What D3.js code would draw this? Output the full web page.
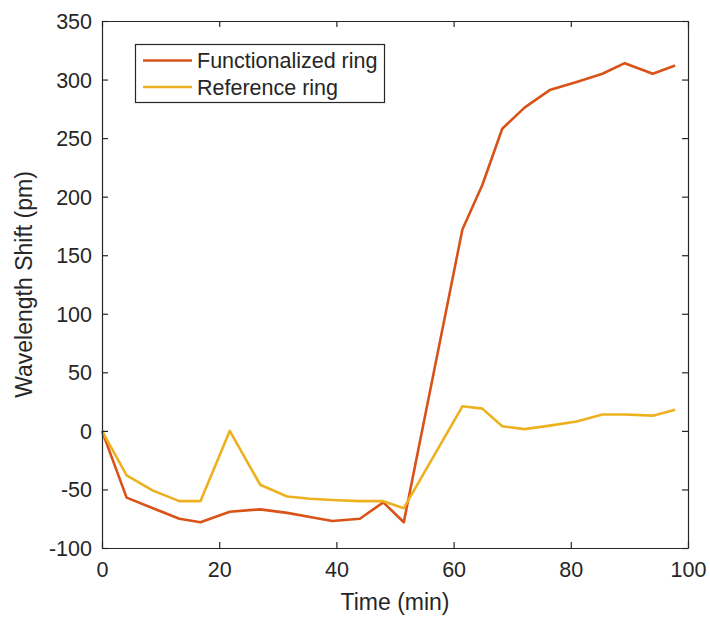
<!DOCTYPE html>
<html>
<head>
<meta charset="utf-8">
<script src="https://cdn.jsdelivr.net/npm/d3@7"></script>
<style>
  html, body { margin: 0; padding: 0; background: #fff; }
  svg { display: block; }
  text { font-family: "Liberation Sans", Arial, Helvetica, sans-serif; fill: #262626; }
</style>
</head>
<body>
<svg id="chart" width="710" height="619"></svg>
<script>
// Sampling times (min)
const time = [0, 4.2, 8.7, 13.2, 16.8, 21.8, 27, 31.6, 35.5, 39.3, 44, 48, 51.5,
              61.5, 64.9, 68.3, 72.1, 76.4, 81, 85.4, 89.2, 94, 97.8];
// Wavelength shift (pm) for each ring
const functionalized = [0, -57, -66, -75, -78, -69, -67, -70, -73.5, -77, -75, -61, -78,
                        172, 210, 258, 276, 291, 298, 305, 314, 305, 312];
const reference = [0, -38, -51, -60, -60, 0, -46, -56, -58, -59, -60, -60, -66,
                   21, 19, 4, 1.5, 4.5, 8, 14, 14, 13, 18];

const xTicks = [0, 20, 40, 60, 80, 100];
const yTicks = [-100, -50, 0, 50, 100, 150, 200, 250, 300, 350];

const seriesNames = ["Functionalized ring", "Reference ring"];
const seriesColors = ["#D95319", "#EDB120"];
const seriesValues = [functionalized, reference];

const svg = d3.select("#chart");
const margin = { left: 102, right: 22, top: 21, bottom: 71 };
const W = 710, H = 619;
const x = d3.scaleLinear().domain([0, 100]).range([margin.left, W - margin.right]);
const y = d3.scaleLinear().domain([-100, 350]).range([H - margin.bottom, margin.top]);

const axisColor = "#262626";
const textColor = "#333333";
const tickLen = 6;
// plain hyphen-minus for negative tick labels
const plain = d => String(d);

// Data lines
const line = d3.line().x(d => x(d[0])).y(d => y(d[1]));
seriesValues.forEach((vals, i) => {
  svg.append("path")
    .datum(time.map((t, j) => [t, vals[j]]))
    .attr("fill", "none")
    .attr("stroke", seriesColors[i])
    .attr("stroke-width", 2.6)
    .attr("stroke-linejoin", "round")
    .attr("d", line);
});

// Axes with inward ticks on all four sides
const fs = 21.5;
const axBottom = svg.append("g").attr("transform", `translate(0,${y(-100)})`)
  .call(d3.axisBottom(x).tickValues(xTicks).tickFormat(plain).tickSizeInner(-tickLen).tickSizeOuter(0).tickPadding(14));
const axTop = svg.append("g").attr("transform", `translate(0,${y(350)})`)
  .call(d3.axisTop(x).tickValues(xTicks).tickSizeInner(-tickLen).tickSizeOuter(0).tickFormat(""));
const axLeft = svg.append("g").attr("transform", `translate(${x(0)},0)`)
  .call(d3.axisLeft(y).tickValues(yTicks).tickFormat(plain).tickSizeInner(-tickLen).tickSizeOuter(0).tickPadding(10));
const axRight = svg.append("g").attr("transform", `translate(${x(100)},0)`)
  .call(d3.axisRight(y).tickValues(yTicks).tickSizeInner(-tickLen).tickSizeOuter(0).tickFormat(""));

[axBottom, axTop, axLeft, axRight].forEach(g => {
  g.select(".domain").attr("stroke", axisColor).attr("stroke-width", 1.2);
  g.selectAll(".tick line").attr("stroke", axisColor).attr("stroke-width", 1.2);
  g.selectAll(".tick text").attr("font-size", fs).attr("fill", textColor)
    .attr("font-family", '"Liberation Sans", Arial, sans-serif');
});
axBottom.selectAll(".tick text").attr("dy", "0.71em");
axLeft.selectAll(".tick text").attr("dy", "0.35em");

// Axis titles
svg.append("text")
  .attr("x", (x(0) + x(100)) / 2).attr("y", 610)
  .attr("text-anchor", "middle").attr("font-size", 23).attr("fill", textColor)
  .text("Time (min)");
svg.append("text")
  .attr("transform", `translate(32,${(y(-100) + y(350)) / 2}) rotate(-90)`)
  .attr("text-anchor", "middle").attr("font-size", 23).attr("fill", textColor)
  .text("Wavelength Shift (pm)");

// Legend
const lg = svg.append("g");
lg.append("rect")
  .attr("x", 135.5).attr("y", 44.5).attr("width", 249).attr("height", 58)
  .attr("fill", "#fff").attr("stroke", axisColor).attr("stroke-width", 1.2);
seriesNames.forEach((name, i) => {
  const yy = 60.5 + i * 26.5;
  lg.append("line")
    .attr("x1", 143).attr("x2", 192).attr("y1", yy).attr("y2", yy)
    .attr("stroke", seriesColors[i]).attr("stroke-width", 2.6);
  lg.append("text")
    .attr("x", 197).attr("y", yy).attr("dy", "0.35em")
    .attr("font-size", 21.5).attr("fill", textColor)
    .text(name);
});
</script>
</body>
</html>
